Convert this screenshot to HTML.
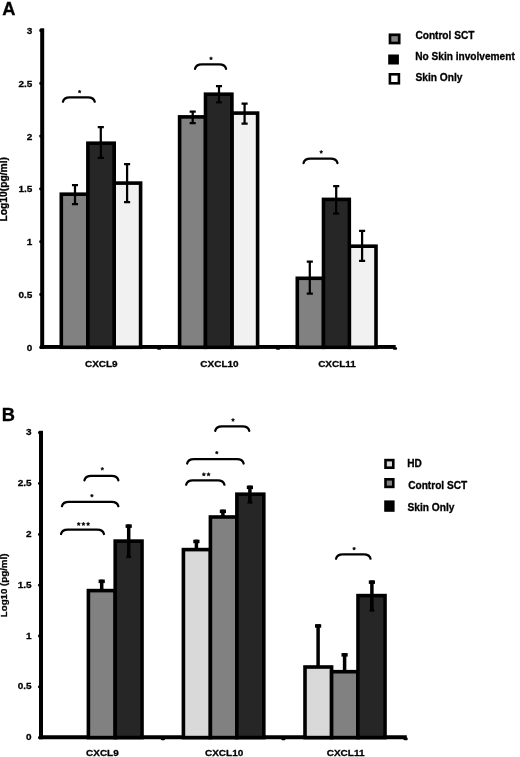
<!DOCTYPE html>
<html><head><meta charset="utf-8"><title>Chart</title>
<style>html,body{margin:0;padding:0;background:#fff;}body{width:520px;height:757px;overflow:hidden;font-family:"Liberation Sans",sans-serif;}svg{display:block;}</style>
</head><body>
<svg width="520" height="757" viewBox="0 0 520 757">
<rect width="520" height="757" fill="#fff"/>
<defs><filter id="bl" filterUnits="userSpaceOnUse" x="0" y="0" width="520" height="757"><feGaussianBlur stdDeviation="0.35"/></filter></defs>
<g filter="url(#bl)">
<rect width="520" height="757" fill="#fff"/>
<text x="2.30" y="15.20" font-size="18.3" text-anchor="start" font-family="Liberation Sans, sans-serif" font-weight="bold" stroke="#000" stroke-width="0.3" >A</text>
<text x="1.80" y="420.60" font-size="18.3" text-anchor="start" font-family="Liberation Sans, sans-serif" font-weight="bold" stroke="#000" stroke-width="0.3" >B</text>
<rect x="40.20" y="28.3" width="4.0" height="320.60" fill="#000"/>
<rect x="40.20" y="345.00" width="355.50" height="3.9" fill="#000"/>
<rect x="39.30" y="345.90" width="2.5" height="2.8" rx="0.8" fill="#000"/>
<text transform="translate(32.30,350.70) scale(1,0.93)" font-size="10" text-anchor="end" font-family="Liberation Sans, sans-serif" font-weight="bold" stroke="#000" stroke-width="0.3" >0</text>
<rect x="39.30" y="293.10" width="2.5" height="2.8" rx="0.8" fill="#000"/>
<text transform="translate(32.30,297.90) scale(1,0.93)" font-size="10" text-anchor="end" font-family="Liberation Sans, sans-serif" font-weight="bold" stroke="#000" stroke-width="0.3" >0.5</text>
<rect x="39.30" y="240.30" width="2.5" height="2.8" rx="0.8" fill="#000"/>
<text transform="translate(32.30,245.10) scale(1,0.93)" font-size="10" text-anchor="end" font-family="Liberation Sans, sans-serif" font-weight="bold" stroke="#000" stroke-width="0.3" >1</text>
<rect x="39.30" y="187.50" width="2.5" height="2.8" rx="0.8" fill="#000"/>
<text transform="translate(32.30,192.30) scale(1,0.93)" font-size="10" text-anchor="end" font-family="Liberation Sans, sans-serif" font-weight="bold" stroke="#000" stroke-width="0.3" >1.5</text>
<rect x="39.30" y="134.70" width="2.5" height="2.8" rx="0.8" fill="#000"/>
<text transform="translate(32.30,139.50) scale(1,0.93)" font-size="10" text-anchor="end" font-family="Liberation Sans, sans-serif" font-weight="bold" stroke="#000" stroke-width="0.3" >2</text>
<rect x="39.30" y="81.90" width="2.5" height="2.8" rx="0.8" fill="#000"/>
<text transform="translate(32.30,86.70) scale(1,0.93)" font-size="10" text-anchor="end" font-family="Liberation Sans, sans-serif" font-weight="bold" stroke="#000" stroke-width="0.3" >2.5</text>
<rect x="39.30" y="29.10" width="2.5" height="2.8" rx="0.8" fill="#000"/>
<text transform="translate(32.30,33.90) scale(1,0.93)" font-size="10" text-anchor="end" font-family="Liberation Sans, sans-serif" font-weight="bold" stroke="#000" stroke-width="0.3" >3</text>
<rect x="157.00" y="347.30" width="4.2" height="2.45" rx="1.0" fill="#000"/>
<rect x="275.90" y="347.30" width="4.2" height="2.45" rx="1.0" fill="#000"/>
<rect x="392.90" y="347.30" width="4.2" height="2.45" rx="1.0" fill="#000"/>
<rect x="61.30" y="194.20" width="26.60" height="153.10" fill="#818181" stroke="#000" stroke-width="3.6"/>
<rect x="114.20" y="183.10" width="26.40" height="164.20" fill="#f1f1f1" stroke="#000" stroke-width="3.6"/>
<rect x="179.60" y="116.90" width="25.90" height="230.40" fill="#818181" stroke="#000" stroke-width="3.6"/>
<rect x="231.90" y="113.10" width="25.70" height="234.20" fill="#f1f1f1" stroke="#000" stroke-width="3.6"/>
<rect x="297.30" y="278.30" width="26.20" height="69.00" fill="#818181" stroke="#000" stroke-width="3.6"/>
<rect x="349.30" y="246.20" width="26.70" height="101.10" fill="#f1f1f1" stroke="#000" stroke-width="3.6"/>
<rect x="87.90" y="143.20" width="26.30" height="204.10" fill="#272727" stroke="#000" stroke-width="3.6"/>
<rect x="205.50" y="94.20" width="26.40" height="253.10" fill="#272727" stroke="#000" stroke-width="3.6"/>
<rect x="323.50" y="199.40" width="25.80" height="147.90" fill="#272727" stroke="#000" stroke-width="3.6"/>
<path d="M75.00 185.20V204.00M71.95 185.20H78.05M71.95 204.00H78.05" stroke="#000" stroke-width="2.25" fill="none"/>
<path d="M100.80 127.10V157.90M97.75 127.10H103.85M97.75 157.90H103.85" stroke="#000" stroke-width="2.25" fill="none"/>
<path d="M127.10 164.10V202.10M124.05 164.10H130.15M124.05 202.10H130.15" stroke="#000" stroke-width="2.25" fill="none"/>
<path d="M192.70 111.60V123.10M189.65 111.60H195.75M189.65 123.10H195.75" stroke="#000" stroke-width="2.25" fill="none"/>
<path d="M219.00 86.00V102.30M215.95 86.00H222.05M215.95 102.30H222.05" stroke="#000" stroke-width="2.25" fill="none"/>
<path d="M244.60 103.70V123.50M241.55 103.70H247.65M241.55 123.50H247.65" stroke="#000" stroke-width="2.25" fill="none"/>
<path d="M309.80 261.70V293.60M306.75 261.70H312.85M306.75 293.60H312.85" stroke="#000" stroke-width="2.25" fill="none"/>
<path d="M336.20 186.20V213.70M333.15 186.20H339.25M333.15 213.70H339.25" stroke="#000" stroke-width="2.25" fill="none"/>
<path d="M362.10 230.80V260.80M359.05 230.80H365.15M359.05 260.80H365.15" stroke="#000" stroke-width="2.25" fill="none"/>
<path d="M62.95 101.70Q63.85 97.30 69.75 97.30H87.95Q93.85 97.30 94.75 101.70" stroke="#000" stroke-width="2.25" fill="none" stroke-linecap="round"/>
<polygon points="79.60,89.95 80.07,90.95 81.17,91.09 80.36,91.85 80.57,92.93 79.60,92.40 78.63,92.93 78.84,91.85 78.03,91.09 79.13,90.95" fill="#000" stroke="#000" stroke-width="0.5" stroke-linejoin="round"/>
<path d="M195.05 68.80Q195.95 64.40 201.85 64.40H219.25Q225.15 64.40 226.05 68.80" stroke="#000" stroke-width="2.25" fill="none" stroke-linecap="round"/>
<polygon points="211.00,56.75 211.47,57.75 212.57,57.89 211.76,58.65 211.97,59.73 211.00,59.20 210.03,59.73 210.24,58.65 209.43,57.89 210.53,57.75" fill="#000" stroke="#000" stroke-width="0.5" stroke-linejoin="round"/>
<path d="M303.55 163.10Q304.45 158.70 310.35 158.70H330.65Q336.55 158.70 337.45 163.10" stroke="#000" stroke-width="2.25" fill="none" stroke-linecap="round"/>
<polygon points="321.20,150.35 321.67,151.35 322.77,151.49 321.96,152.25 322.17,153.33 321.20,152.80 320.23,153.33 320.44,152.25 319.63,151.49 320.73,151.35" fill="#000" stroke="#000" stroke-width="0.5" stroke-linejoin="round"/>
<text transform="translate(101.30,367.20) scale(1,0.93)" font-size="10" text-anchor="middle" font-family="Liberation Sans, sans-serif" font-weight="bold" stroke="#000" stroke-width="0.3" >CXCL9</text>
<text transform="translate(219.50,367.20) scale(1,0.93)" font-size="10" text-anchor="middle" font-family="Liberation Sans, sans-serif" font-weight="bold" stroke="#000" stroke-width="0.3" >CXCL10</text>
<text transform="translate(337.00,367.20) scale(1,0.93)" font-size="10" text-anchor="middle" font-family="Liberation Sans, sans-serif" font-weight="bold" stroke="#000" stroke-width="0.3" >CXCL11</text>
<text transform="translate(7.15,189.3) rotate(-90) scale(1,0.98)" font-size="10.3" text-anchor="middle" font-family="Liberation Sans, sans-serif" font-weight="bold" stroke="#000" stroke-width="0.3">Log10(pg/ml)</text>
<rect x="390.0" y="34.8" width="9.2" height="8.2" fill="#818181" stroke="#000" stroke-width="2.7"/>
<rect x="388.2" y="54.5" width="10.7" height="10" fill="#000"/>
<rect x="389.9" y="74.3" width="9.0" height="9.0" fill="#fff" stroke="#000" stroke-width="2.6"/>
<text transform="translate(415.40,38.60) scale(1,1.06)" font-size="10.1" text-anchor="start" font-family="Liberation Sans, sans-serif" font-weight="bold" stroke="#000" stroke-width="0.3" textLength="59" lengthAdjust="spacingAndGlyphs">Control SCT</text>
<text transform="translate(415.20,60.10) scale(1,1.06)" font-size="10.1" text-anchor="start" font-family="Liberation Sans, sans-serif" font-weight="bold" stroke="#000" stroke-width="0.3" textLength="99.6" lengthAdjust="spacingAndGlyphs">No Skin involvement</text>
<text transform="translate(415.50,81.30) scale(1,1.06)" font-size="10.1" text-anchor="start" font-family="Liberation Sans, sans-serif" font-weight="bold" stroke="#000" stroke-width="0.3" textLength="47" lengthAdjust="spacingAndGlyphs">Skin Only</text>
<rect x="39.00" y="430.8" width="4.0" height="308.45" fill="#000"/>
<rect x="39.00" y="735.25" width="367.80" height="4.0" fill="#000"/>
<rect x="38.10" y="736.30" width="2.5" height="2.8" rx="0.8" fill="#000"/>
<text transform="translate(31.60,740.30) scale(1,0.93)" font-size="10" text-anchor="end" font-family="Liberation Sans, sans-serif" font-weight="bold" stroke="#000" stroke-width="0.3" >0</text>
<rect x="38.10" y="685.45" width="2.5" height="2.8" rx="0.8" fill="#000"/>
<text transform="translate(31.60,689.45) scale(1,0.93)" font-size="10" text-anchor="end" font-family="Liberation Sans, sans-serif" font-weight="bold" stroke="#000" stroke-width="0.3" >0.5</text>
<rect x="38.10" y="634.60" width="2.5" height="2.8" rx="0.8" fill="#000"/>
<text transform="translate(31.60,638.60) scale(1,0.93)" font-size="10" text-anchor="end" font-family="Liberation Sans, sans-serif" font-weight="bold" stroke="#000" stroke-width="0.3" >1</text>
<rect x="38.10" y="583.75" width="2.5" height="2.8" rx="0.8" fill="#000"/>
<text transform="translate(31.60,587.75) scale(1,0.93)" font-size="10" text-anchor="end" font-family="Liberation Sans, sans-serif" font-weight="bold" stroke="#000" stroke-width="0.3" >1.5</text>
<rect x="38.10" y="532.90" width="2.5" height="2.8" rx="0.8" fill="#000"/>
<text transform="translate(31.60,536.90) scale(1,0.93)" font-size="10" text-anchor="end" font-family="Liberation Sans, sans-serif" font-weight="bold" stroke="#000" stroke-width="0.3" >2</text>
<rect x="38.10" y="482.05" width="2.5" height="2.8" rx="0.8" fill="#000"/>
<text transform="translate(31.60,486.05) scale(1,0.93)" font-size="10" text-anchor="end" font-family="Liberation Sans, sans-serif" font-weight="bold" stroke="#000" stroke-width="0.3" >2.5</text>
<rect x="38.10" y="431.20" width="2.5" height="2.8" rx="0.8" fill="#000"/>
<text transform="translate(31.60,435.20) scale(1,0.93)" font-size="10" text-anchor="end" font-family="Liberation Sans, sans-serif" font-weight="bold" stroke="#000" stroke-width="0.3" >3</text>
<rect x="160.80" y="737.60" width="4.2" height="2.65" rx="1.0" fill="#000"/>
<rect x="281.30" y="737.60" width="4.2" height="2.65" rx="1.0" fill="#000"/>
<rect x="403.50" y="737.60" width="4.2" height="2.65" rx="1.0" fill="#000"/>
<rect x="88.40" y="590.60" width="26.80" height="147.00" fill="#818181" stroke="#000" stroke-width="3.6"/>
<rect x="183.40" y="549.60" width="27.00" height="188.00" fill="#d9d9d9" stroke="#000" stroke-width="3.6"/>
<rect x="210.40" y="517.00" width="26.50" height="220.60" fill="#818181" stroke="#000" stroke-width="3.6"/>
<rect x="305.00" y="667.00" width="26.60" height="70.60" fill="#d9d9d9" stroke="#000" stroke-width="3.6"/>
<rect x="331.60" y="671.70" width="26.40" height="65.90" fill="#818181" stroke="#000" stroke-width="3.6"/>
<rect x="115.20" y="541.10" width="26.80" height="196.50" fill="#272727" stroke="#000" stroke-width="3.6"/>
<rect x="236.90" y="494.20" width="26.90" height="243.40" fill="#272727" stroke="#000" stroke-width="3.6"/>
<rect x="358.00" y="595.60" width="27.00" height="142.00" fill="#272727" stroke="#000" stroke-width="3.6"/>
<path d="M101.70 579.60V590.60" stroke="#000" stroke-width="3.5" fill="none"/>
<rect x="98.60" y="579.60" width="6.20" height="3.5" fill="#000"/>
<path d="M128.70 524.40V557.10" stroke="#000" stroke-width="3.5" fill="none"/>
<rect x="125.60" y="524.40" width="6.20" height="3.5" fill="#000"/>
<rect x="126.30" y="555.50" width="4.8" height="2.6" fill="#000"/>
<path d="M196.40 539.70V549.60" stroke="#000" stroke-width="3.5" fill="none"/>
<rect x="193.30" y="539.70" width="6.20" height="3.5" fill="#000"/>
<path d="M222.90 509.60V517.00" stroke="#000" stroke-width="3.5" fill="none"/>
<rect x="219.80" y="509.60" width="6.20" height="3.5" fill="#000"/>
<path d="M249.90 485.60V502.80" stroke="#000" stroke-width="3.5" fill="none"/>
<rect x="246.80" y="485.60" width="6.20" height="3.5" fill="#000"/>
<rect x="247.50" y="501.20" width="4.8" height="2.6" fill="#000"/>
<path d="M318.10 624.20V667.20" stroke="#000" stroke-width="3.5" fill="none"/>
<rect x="315.00" y="624.20" width="6.20" height="3.5" fill="#000"/>
<path d="M344.60 653.10V671.90" stroke="#000" stroke-width="3.5" fill="none"/>
<rect x="341.50" y="653.10" width="6.20" height="3.5" fill="#000"/>
<path d="M371.90 580.40V610.80" stroke="#000" stroke-width="3.5" fill="none"/>
<rect x="368.80" y="580.40" width="6.20" height="3.5" fill="#000"/>
<rect x="369.50" y="609.20" width="4.8" height="2.6" fill="#000"/>
<path d="M84.45 480.30Q85.35 475.90 91.25 475.90H111.55Q117.45 475.90 118.35 480.30" stroke="#000" stroke-width="2.25" fill="none" stroke-linecap="round"/>
<polygon points="102.30,467.15 102.77,468.15 103.87,468.29 103.06,469.05 103.27,470.13 102.30,469.60 101.33,470.13 101.54,469.05 100.73,468.29 101.83,468.15" fill="#000" stroke="#000" stroke-width="0.5" stroke-linejoin="round"/>
<path d="M61.95 506.20Q62.85 501.80 68.75 501.80H111.55Q117.45 501.80 118.35 506.20" stroke="#000" stroke-width="2.25" fill="none" stroke-linecap="round"/>
<polygon points="91.90,494.05 92.37,495.05 93.47,495.19 92.66,495.95 92.87,497.03 91.90,496.50 90.93,497.03 91.14,495.95 90.33,495.19 91.43,495.05" fill="#000" stroke="#000" stroke-width="0.5" stroke-linejoin="round"/>
<path d="M61.05 534.00Q61.95 529.60 67.85 529.60H97.15Q103.05 529.60 103.95 534.00" stroke="#000" stroke-width="2.25" fill="none" stroke-linecap="round"/>
<polygon points="78.70,522.15 79.23,523.27 80.46,523.43 79.56,524.28 79.79,525.50 78.70,524.90 77.61,525.50 77.84,524.28 76.94,523.43 78.17,523.27" fill="#000" stroke="#000" stroke-width="0.5" stroke-linejoin="round"/>
<polygon points="83.40,522.15 83.93,523.27 85.16,523.43 84.26,524.28 84.49,525.50 83.40,524.90 82.31,525.50 82.54,524.28 81.64,523.43 82.87,523.27" fill="#000" stroke="#000" stroke-width="0.5" stroke-linejoin="round"/>
<polygon points="88.10,522.15 88.63,523.27 89.86,523.43 88.96,524.28 89.19,525.50 88.10,524.90 87.01,525.50 87.24,524.28 86.34,523.43 87.57,523.27" fill="#000" stroke="#000" stroke-width="0.5" stroke-linejoin="round"/>
<path d="M186.15 484.70Q187.05 480.30 192.95 480.30H217.65Q223.55 480.30 224.45 484.70" stroke="#000" stroke-width="2.25" fill="none" stroke-linecap="round"/>
<polygon points="203.85,472.55 204.38,473.67 205.61,473.83 204.71,474.68 204.94,475.90 203.85,475.30 202.76,475.90 202.99,474.68 202.09,473.83 203.32,473.67" fill="#000" stroke="#000" stroke-width="0.5" stroke-linejoin="round"/>
<polygon points="208.55,472.55 209.08,473.67 210.31,473.83 209.41,474.68 209.64,475.90 208.55,475.30 207.46,475.90 207.69,474.68 206.79,473.83 208.02,473.67" fill="#000" stroke="#000" stroke-width="0.5" stroke-linejoin="round"/>
<path d="M187.15 463.50Q188.05 459.10 193.95 459.10H236.85Q242.75 459.10 243.65 463.50" stroke="#000" stroke-width="2.25" fill="none" stroke-linecap="round"/>
<polygon points="216.80,451.05 217.27,452.05 218.37,452.19 217.56,452.95 217.77,454.03 216.80,453.50 215.83,454.03 216.04,452.95 215.23,452.19 216.33,452.05" fill="#000" stroke="#000" stroke-width="0.5" stroke-linejoin="round"/>
<path d="M215.25 430.80Q216.15 426.40 222.05 426.40H242.45Q248.35 426.40 249.25 430.80" stroke="#000" stroke-width="2.25" fill="none" stroke-linecap="round"/>
<polygon points="233.00,418.35 233.47,419.35 234.57,419.49 233.76,420.25 233.97,421.33 233.00,420.80 232.03,421.33 232.24,420.25 231.43,419.49 232.53,419.35" fill="#000" stroke="#000" stroke-width="0.5" stroke-linejoin="round"/>
<path d="M336.05 558.70Q336.95 554.30 342.85 554.30H363.75Q369.65 554.30 370.55 558.70" stroke="#000" stroke-width="2.25" fill="none" stroke-linecap="round"/>
<polygon points="354.10,546.95 354.57,547.95 355.67,548.09 354.86,548.85 355.07,549.93 354.10,549.40 353.13,549.93 353.34,548.85 352.53,548.09 353.63,547.95" fill="#000" stroke="#000" stroke-width="0.5" stroke-linejoin="round"/>
<text transform="translate(102.40,756.40) scale(1,0.93)" font-size="10" text-anchor="middle" font-family="Liberation Sans, sans-serif" font-weight="bold" stroke="#000" stroke-width="0.3" >CXCL9</text>
<text transform="translate(224.10,756.40) scale(1,0.93)" font-size="10" text-anchor="middle" font-family="Liberation Sans, sans-serif" font-weight="bold" stroke="#000" stroke-width="0.3" >CXCL10</text>
<text transform="translate(345.60,756.40) scale(1,0.93)" font-size="10" text-anchor="middle" font-family="Liberation Sans, sans-serif" font-weight="bold" stroke="#000" stroke-width="0.3" >CXCL11</text>
<text transform="translate(7.45,585.4) rotate(-90) scale(1,0.9)" font-size="9.7" text-anchor="middle" font-family="Liberation Sans, sans-serif" font-weight="bold" stroke="#000" stroke-width="0.3">Log10 (pg/ml)</text>
<rect x="385.5" y="460.1" width="7.8" height="7.6" fill="#d9d9d9" stroke="#000" stroke-width="2.6"/>
<rect x="385.5" y="479.3" width="7.8" height="7.6" fill="#818181" stroke="#000" stroke-width="2.6"/>
<rect x="384.2" y="500.4" width="10.4" height="11.4" fill="#000"/>
<text transform="translate(407.30,467.00) scale(1,1.06)" font-size="10.1" text-anchor="start" font-family="Liberation Sans, sans-serif" font-weight="bold" stroke="#000" stroke-width="0.3" >HD</text>
<text transform="translate(408.20,488.70) scale(1,1.06)" font-size="10.1" text-anchor="start" font-family="Liberation Sans, sans-serif" font-weight="bold" stroke="#000" stroke-width="0.3" textLength="59" lengthAdjust="spacingAndGlyphs">Control SCT</text>
<text transform="translate(407.50,510.70) scale(1,1.06)" font-size="10.1" text-anchor="start" font-family="Liberation Sans, sans-serif" font-weight="bold" stroke="#000" stroke-width="0.3" textLength="47" lengthAdjust="spacingAndGlyphs">Skin Only</text>
</g>
</svg>
</body></html>
